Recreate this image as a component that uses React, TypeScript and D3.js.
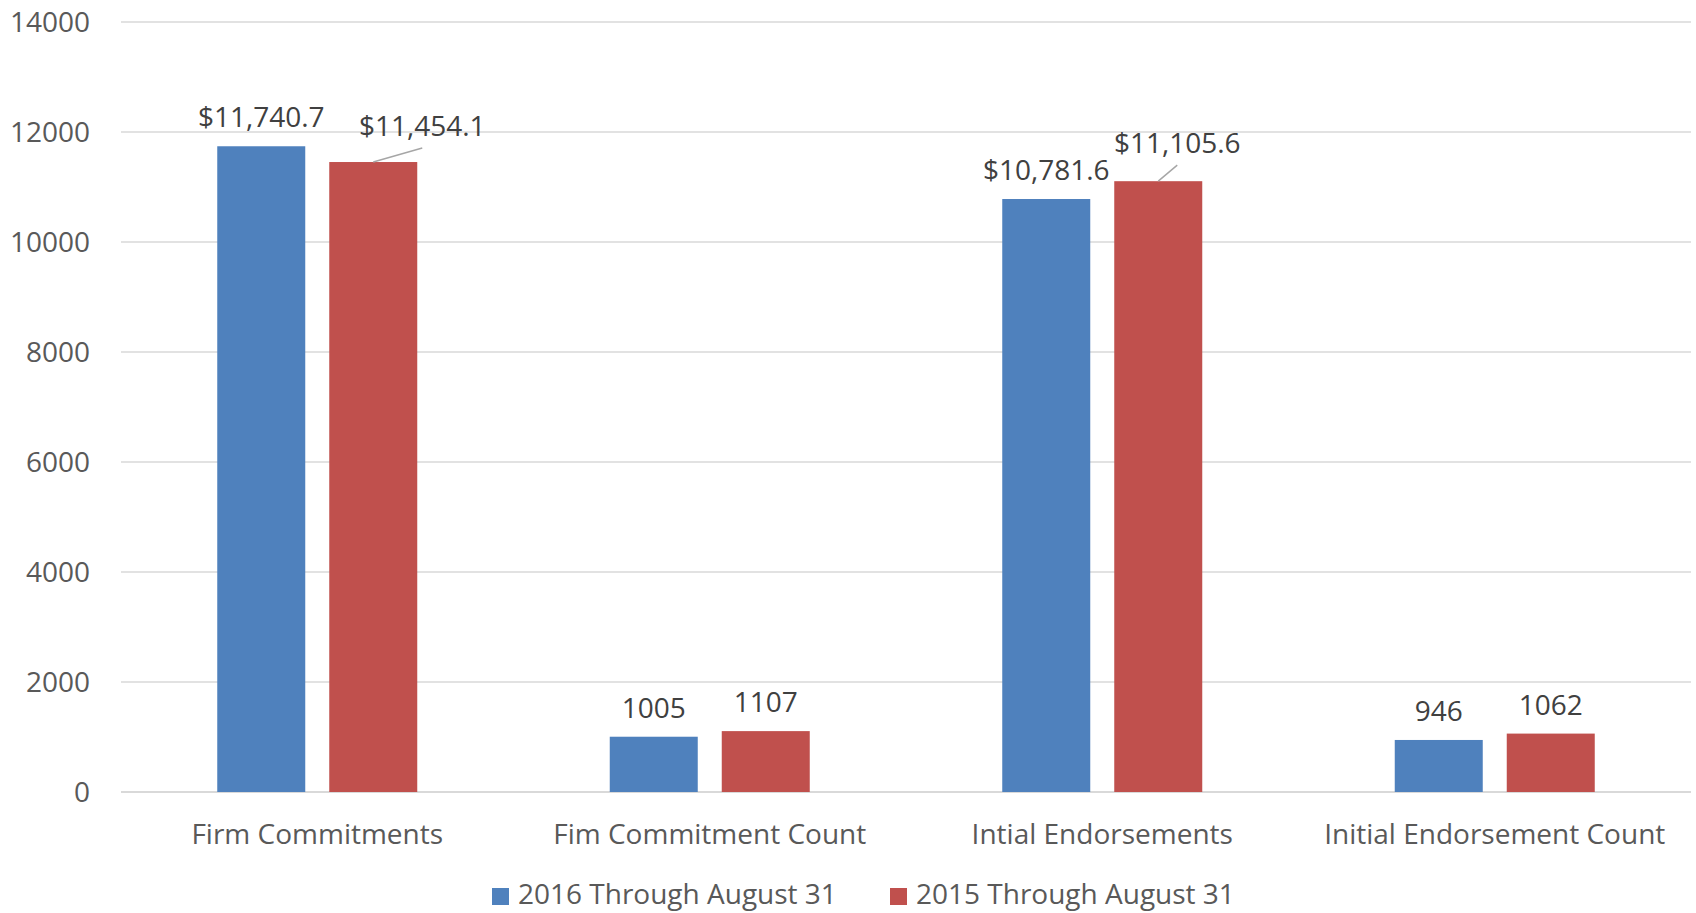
import React from 'react';
import * as d3 from 'd3';

const categories = ['Firm Commitments', 'Fim Commitment Count', 'Intial Endorsements', 'Initial Endorsement Count'];
const seriesNames = ['2016 Through August 31', '2015 Through August 31'];
const values2016 = [11740.7, 1005, 10781.6, 946];
const values2015 = [11454.1, 1107, 11105.6, 1062];
const dollarCategory = [true, false, true, false];
const yTicks = [0, 2000, 4000, 6000, 8000, 10000, 12000, 14000];

const colors = ['#4F81BD', '#C0504D'];
const textColor = '#595959';
const font = '"Open Sans", sans-serif';
const fs = 28;

// labels Excel pushed aside (with leader line), per series / category
const labelNudge = [
  [[0, 0], [0, 0], [0, 0], [0, 0]],
  [[49, -7], [0, 0], [19, -9], [0, 0]],
];

const App = () => {
  const width = 1696;
  const height = 913;
  const plot = { left: 121, right: 1691, top: 22, bottom: 792 };

  const y = d3.scaleLinear().domain([0, 14000]).range([plot.bottom, plot.top]);
  const x0 = d3.scaleBand().domain(categories).range([plot.left, plot.right]).padding(0);
  const bw = x0.bandwidth();
  const x1 = d3.scaleBand()
    .domain(seriesNames)
    .range([bw / 2 - 100, bw / 2 + 100])
    .paddingInner(24 / 112)
    .paddingOuter(0);

  const series = [values2016, values2015];
  const fmtDollar = d3.format('$,.1f');
  const fmtCount = d3.format('d');

  return (
    <>
      <style>{`body{margin:0}`}</style>
      <svg width={width} height={height} style={{ display: 'block', background: '#fff' }} fontFamily={font}>
        {/* gridlines */}
        {yTicks.map(t => (
          <g key={t}>
            <line
              x1={plot.left}
              x2={plot.right}
              y1={y(t)}
              y2={y(t)}
              stroke="#D9D9D9"
              strokeWidth={t === 0 ? 2 : 1.5}
            />
            <text x={90} y={y(t)} dy="0.36em" textAnchor="end" fontSize={fs} fill={textColor}>
              {t}
            </text>
          </g>
        ))}

        {/* bars */}
        {series.map((vals, si) => (
          <g key={si} fill={colors[si]}>
            {vals.map((v, ci) => {
              const bx = x0(categories[ci])! + x1(seriesNames[si])!;
              return (
                <rect key={ci} x={bx} y={y(v)} width={x1.bandwidth()} height={y(0) - y(v)} />
              );
            })}
          </g>
        ))}

        {/* data labels */}
        {series.map((vals, si) =>
          vals.map((v, ci) => {
            const cx = x0(categories[ci])! + x1(seriesNames[si])! + x1.bandwidth() / 2;
            const [dx, dy] = labelNudge[si][ci];
            const lx = cx + dx;
            const ly = y(v) - 19 + dy;
            const label = dollarCategory[ci] ? fmtDollar(v) : fmtCount(v);
            return (
              <g key={`${si}-${ci}`}>
                {(dx !== 0 || dy !== 0) && (
                  <line x1={cx} y1={y(v)} x2={lx} y2={ly + 12} stroke="#A6A6A6" strokeWidth={1.5} />
                )}
                <text x={lx} y={ly} textAnchor="middle" fontSize={fs} fill="#404040">
                  {label}
                </text>
              </g>
            );
          })
        )}

        {/* category labels */}
        {categories.map(c => (
          <text key={c} x={x0(c)! + bw / 2} y={844} textAnchor="middle" fontSize={fs} fill={textColor}>
            {c}
          </text>
        ))}

        {/* legend */}
        {seriesNames.map((s, i) => {
          const lx = [492, 890][i];
          return (
            <g key={s}>
              <rect x={lx} y={888} width={17} height={17} fill={colors[i]} />
              <text x={lx + 26} y={904} fontSize={fs} fill={textColor}>
                {s}
              </text>
            </g>
          );
        })}
      </svg>
    </>
  );
};

export default App;
